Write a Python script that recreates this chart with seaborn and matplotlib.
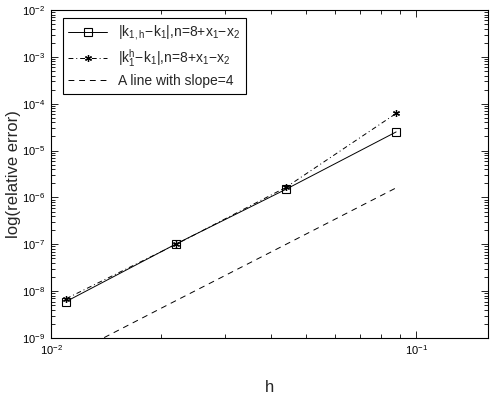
import numpy as np
import pandas as pd
import matplotlib
matplotlib.use("Agg")
import matplotlib.pyplot as plt
import seaborn as sns
from matplotlib.ticker import LogLocator, FixedLocator, NullFormatter

h = [0.011, 0.022, 0.044, 0.088]
err_kh = [6.0e-9, 1.02e-7, 1.5e-6, 2.5e-5]
err_hk = [6.9e-9, 1.0e-7, 1.65e-6, 6.2e-5]
slope_line = [3.9e-10, 6.3e-9, 1.0e-7, 1.6e-6]

labels = [r'$|k_{1,h}\!-\!k_1|$,n=8+x$_1$$-$x$_2$',
          r'$|k_1^h\!-\!k_1|$,n=8+x$_1$$-$x$_2$',
          'A line with slope=4']

sns.set_style("white")
plt.rcParams['font.family'] = ['Liberation Sans', 'DejaVu Sans']
plt.rcParams['mathtext.default'] = 'regular'
plt.rcParams['mathtext.fontset'] = 'custom'
plt.rcParams['mathtext.rm'] = 'Liberation Sans'
plt.rcParams['mathtext.it'] = 'Liberation Sans'

fig = plt.figure(figsize=(4.98, 4.0), dpi=100)
ax = fig.add_axes([51/498, 1-338/400, 437/498, 328/400])

df = pd.DataFrame({'h': h, 'a': err_kh, 'b': err_hk, 'c': slope_line})

sns.lineplot(data=df, x='h', y='a', ax=ax, color='k', lw=0.7, marker='s',
             markersize=6, markerfacecolor='none', markeredgecolor='k',
             markeredgewidth=0.8, label=labels[0])
sns.lineplot(data=df, x='h', y='b', ax=ax, color='k', lw=0.7, marker=(6, 2, 0),
             markersize=5, markeredgecolor='k', markeredgewidth=0.9,
             linestyle=(0, (5, 3, 1, 3)), label=labels[1])
sns.lineplot(data=df, x='h', y='c', ax=ax, color='k', lw=0.7,
             linestyle=(0, (6, 5)), label=labels[2])

ax.set_xscale('log')
ax.set_yscale('log')
ax.set_xlim(0.01, 0.157)
ax.set_ylim(1e-9, 1e-2)

ax.xaxis.set_major_locator(FixedLocator([0.01, 0.1]))
ax.xaxis.set_minor_locator(LogLocator(base=10, subs=np.arange(2, 10)))
ax.yaxis.set_major_locator(LogLocator(base=10, numticks=20))
ax.yaxis.set_minor_locator(LogLocator(base=10, subs=np.arange(2, 10), numticks=20))
ax.xaxis.set_minor_formatter(NullFormatter())
ax.yaxis.set_minor_formatter(NullFormatter())

ax.tick_params(which='both', direction='in', top=True, right=True,
               bottom=True, left=True, width=0.6, colors='k', labelsize=8)
ax.tick_params(which='major', length=5, pad=4)
ax.tick_params(which='minor', length=3)
for s in ax.spines.values():
    s.set_visible(True)
    s.set_color('k')
    s.set_linewidth(0.8)

ax.set_xlabel('h', fontsize=12, labelpad=16)
ax.set_ylabel('log(relative error)', fontsize=12, labelpad=1)

leg = ax.legend(loc='upper left', bbox_to_anchor=(0.027, 0.976), fontsize=10,
                frameon=True, fancybox=False, edgecolor='k', framealpha=1,
                handlelength=2.8, borderpad=0.4, labelspacing=0.35,
                borderaxespad=0)
leg.get_frame().set_linewidth(0.8)

fig.savefig('out.png', dpi=100)
